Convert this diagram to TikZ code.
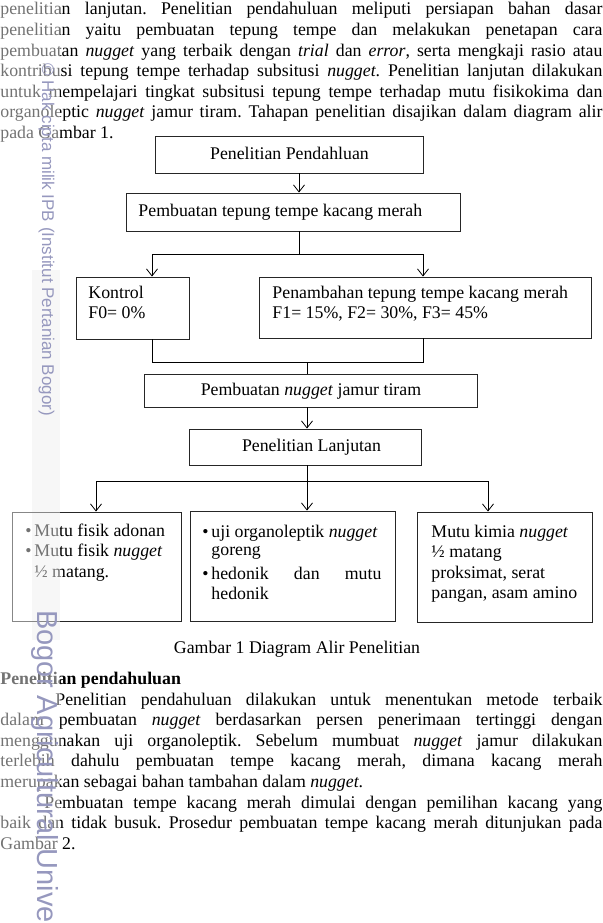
\documentclass[tikz,border=0pt]{standalone}
\usepackage{fontspec}
\setmainfont{Liberation Serif}
\setsansfont{Liberation Sans}
\usetikzlibrary{arrows.meta}
\definecolor{tandaair}{RGB}{150,152,190}
\newcommand{\baris}[1]{\makebox[602pt][s]{#1}}
\newcommand{\butir}{\makebox[9pt][l]{•}}
\tikzset{
  kotak/.style={draw=black!85, line width=0.9pt, anchor=base west, inner xsep=12pt, inner ysep=0pt, align=left},
  tengah/.style={draw=black!85, line width=0.9pt, anchor=base west, inner sep=0pt},
  panah/.style={-{Straight Barb[length=7pt,width=11pt]}},
  para/.style={anchor=base west, inner sep=0pt, text width=602pt, align=left},
  tanda/.style={text=tandaair, anchor=base west, inner sep=0pt, rotate=-90},
}

\begin{document}
\begin{tikzpicture}[x=1pt, y=-1pt, font=\fontsize{17.8pt}{20.6pt}\selectfont, line width=0.8pt,
  execute at begin node={\spaceskip=0pt\xspaceskip=0pt\frenchspacing}]
\useasboundingbox (0,0) rectangle (602,923);
\fill[black!5] (32,270) rectangle (60,640);

% teks sebelum gambar
\node[para] (par1) at (0,15) {%
\baris{penelitian lanjutan. Penelitian pendahuluan meliputi persiapan bahan dasar}\\
\baris{penelitian yaitu pembuatan tepung tempe dan melakukan penetapan cara}\\
\baris{pembuatan \textit{nugget} yang terbaik dengan \textit{trial} dan \textit{error}, serta mengkaji rasio atau}\\
\baris{kontribusi tepung tempe terhadap subsitusi \textit{nugget}. Penelitian lanjutan dilakukan}\\
\baris{untuk mempelajari tingkat subsitusi tepung tempe terhadap mutu fisikokima dan}\\
\baris{organoleptic \textit{nugget} jamur tiram. Tahapan penelitian disajikan dalam diagram alir}\\
pada Gambar 1.};

% diagram alir
\node[tengah, minimum width=268pt, text height=23pt, text depth=14pt] (pendahuluan) at (155,159) {Penelitian Pendahluan};
\node[kotak, text width=310pt, text height=23pt, text depth=15pt] (tepung) at (126,216) {Pembuatan tepung tempe kacang merah};
\node[kotak, text width=89pt, text height=21pt, text depth=41pt] (kontrol) at (76,298) {Kontrol\\F0= 0\%};
\node[kotak, inner xsep=13pt, text width=306pt, text height=21pt, text depth=40pt] (tambah) at (259,298) {Penambahan tepung tempe kacang merah\\F1= 15\%, F2= 30\%, F3= 45\%};
\node[tengah, minimum width=333pt, text height=21.5pt, text depth=11.5pt] (nugget) at (144,395.5) {Pembuatan \textit{nugget} jamur tiram};
\node[tengah, minimum width=232pt, text height=22.5pt, text depth=13.5pt] (lanjut) at (189,451.5) {\hspace*{12pt}Penelitian Lanjutan};
\node[kotak, inner xsep=13pt, text width=143pt, text height=24pt, text depth=85pt] (fisik) at (12,536) {\butir Mutu fisik adonan\\ \butir Mutu fisik \textit{nugget}\\ \hspace*{9pt}½ matang.};
\node[kotak, text width=181pt, text height=26pt, text depth=84pt] (organo) at (190,537) {\butir uji organoleptik \textit{nugget}\\[-2pt] \hspace*{9pt}goreng\\[3pt] \butir\makebox[170pt][s]{hedonik dan mutu}\\ \hspace*{9pt}hedonik};
\node[kotak, inner xsep=14pt, text width=147pt, text height=25pt, text depth=85pt] (kimia) at (417,537) {Mutu kimia \textit{nugget}\\ ½ matang\\ proksimat, serat\\ \mbox{pangan, asam amino}};

\coordinate (cab1) at (299,254);
\coordinate (kiri1) at (152,254);
\coordinate (kanan1) at (423,254);
\coordinate (gab1) at (307,362);
\coordinate (cab2) at (307,481);
\coordinate (kiri2) at (96,481);
\coordinate (kanan2) at (488,481);

\draw[panah] (pendahuluan.south -| cab1) -- (tepung.north -| cab1);
\draw (tepung.south -| cab1) -- (cab1);
\draw (kiri1) -- (kanan1);
\draw[panah] (kiri1) -- (kontrol.north -| kiri1);
\draw[panah] (kanan1) -- (tambah.north -| kanan1);
\draw (kontrol.south -| kiri1) -- (gab1 -| kiri1) -- (gab1 -| kanan1) -- (tambah.south -| kanan1);
\draw (gab1) -- (nugget.north -| gab1);
\draw[panah] (nugget.south -| gab1) -- (lanjut.north -| gab1);
\draw (lanjut.south -| cab2) -- (cab2);
\draw (kiri2) -- (kanan2);
\draw[panah] (kiri2) -- (fisik.north -| kiri2);
\draw[panah] (cab2) -- (organo.north -| cab2);
\draw[panah] (kanan2) -- (kimia.north -| kanan2);

\node[anchor=base, inner sep=0pt] (judul) at (297,653) {Gambar 1 Diagram Alir Penelitian};

% teks sesudah gambar
\node[anchor=base west, inner sep=0pt] (subjudul) at (0,684) {\textbf{Penelitian pendahuluan}};
\node[para] (par2) at (0,705) {%
\baris{\hspace*{55pt}Penelitian pendahuluan dilakukan untuk menentukan metode terbaik}\\
\baris{dalam pembuatan \textit{nugget} berdasarkan persen penerimaan tertinggi dengan}\\
\baris{menggunakan uji organoleptik. Sebelum mumbuat \textit{nugget} jamur dilakukan}\\
\baris{terlebih dahulu pembuatan tempe kacang merah, dimana kacang merah}\\
merupakan sebagai bahan tambahan dalam \textit{nugget}.\\
\baris{\hspace*{44pt}Pembuatan tempe kacang merah dimulai dengan pemilihan kacang yang}\\
\baris{baik dan tidak busuk. Prosedur pembuatan tempe kacang merah ditunjukan pada}\\
Gambar 2.};

% tanda air
\fill[white, opacity=0.45] (0,0) rectangle (60,923);
\node[tanda, font=\sffamily\fontsize{17pt}{17pt}\selectfont] (tanda1) at (42,63) {© Hak cipta milik IPB (Institut Pertanian Bogor)};
\node[tanda, font=\sffamily\fontsize{29pt}{29pt}\selectfont] (tanda2) at (37.5,610) {Bogor Agricultural University};
\end{tikzpicture}
\end{document}
